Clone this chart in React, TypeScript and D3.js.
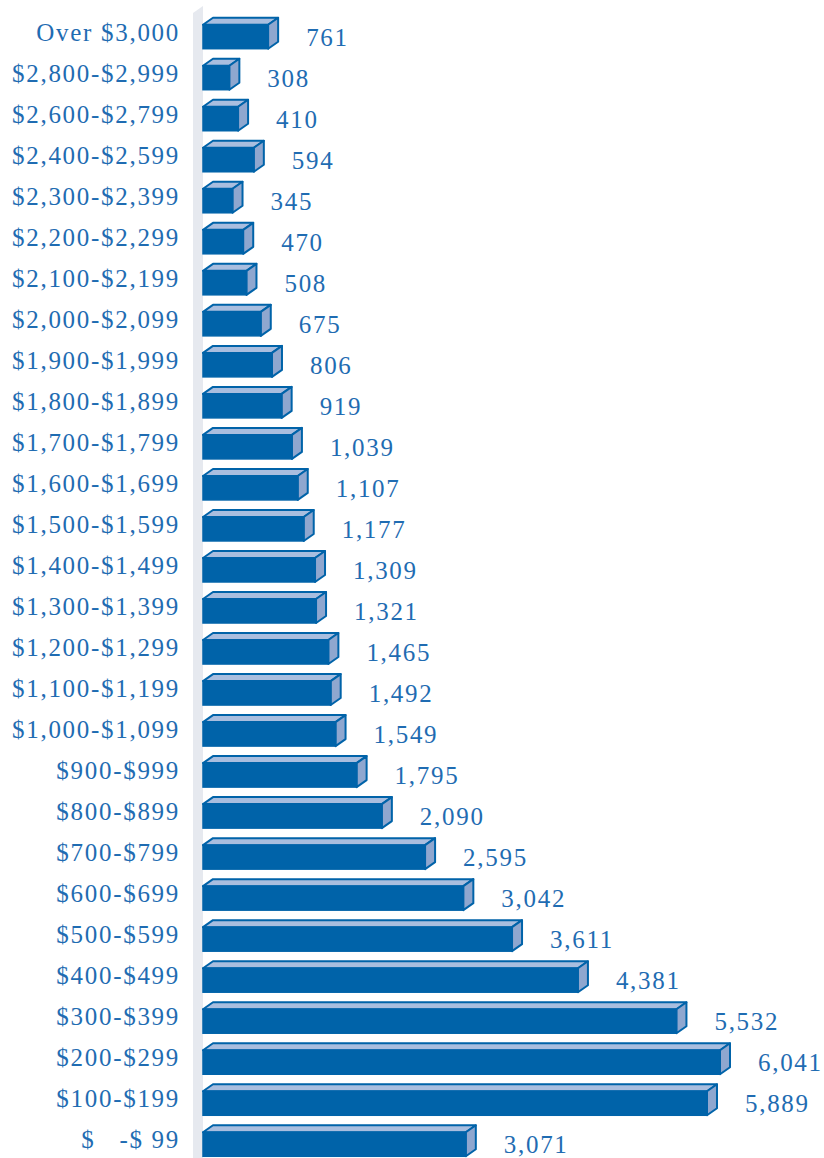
import React from "react";
import * as d3 from "d3";

const categories = [
  "Over $3,000", "$2,800-$2,999", "$2,600-$2,799", "$2,400-$2,599", "$2,300-$2,399",
  "$2,200-$2,299", "$2,100-$2,199", "$2,000-$2,099", "$1,900-$1,999", "$1,800-$1,899",
  "$1,700-$1,799", "$1,600-$1,699", "$1,500-$1,599", "$1,400-$1,499", "$1,300-$1,399",
  "$1,200-$1,299", "$1,100-$1,199", "$1,000-$1,099", "$900-$999", "$800-$899",
  "$700-$799", "$600-$699", "$500-$599", "$400-$499", "$300-$399", "$200-$299",
  "$100-$199", "$   -$ 99",
];
const values = [
  761, 308, 410, 594, 345, 470, 508, 675, 806, 919, 1039, 1107, 1177, 1309, 1321,
  1465, 1492, 1549, 1795, 2090, 2595, 3042, 3611, 4381, 5532, 6041, 5889, 3071,
];

const W = 824;
const H = 1158;
const BLUE = "#0063a9";
const TOP = "#a9bedf";
const SIDE = "#8fa7cf";
const TEXT = "#1f6cb2";
const WALL = "#e6e9ef";
const FONT = "'Liberation Serif', 'Times New Roman', serif";

export default function App() {
  const x = d3.scaleLinear().domain([0, 6041]).range([203, 720]);
  const y = d3
    .scaleBand<string>()
    .domain(categories)
    .range([16.5, 16.5 + 41 * categories.length])
    .paddingInner(0.415)
    .paddingOuter(0.2);
  const bh = y.bandwidth();
  const dx = 10;
  const dy = 7;
  const fmt = d3.format(",");

  return (
    <svg width={W} height={H} style={{ position: "absolute", left: 0, top: 0 }}>
      <rect width={W} height={H} fill="#ffffff" />
      {/* left wall */}
      <polygon points={`193,13 203,6 203,${H} 193,${H}`} fill={WALL} />
      {categories.map((c, i) => {
        const v = values[i];
        const x0 = x(0);
        const x1 = x(v);
        const yt = y(c)!;
        const yb = yt + bh;
        const cy = yt + bh / 2;
        return (
          <g key={c}>
            <polygon
              points={`${x0},${yt} ${x0 + dx},${yt - dy} ${x1 + dx},${yt - dy} ${x1},${yt}`}
              fill={TOP}
              stroke={BLUE}
              strokeWidth={2}
              strokeLinejoin="round"
            />
            <polygon
              points={`${x1},${yt} ${x1 + dx},${yt - dy} ${x1 + dx},${yb - dy} ${x1},${yb}`}
              fill={SIDE}
              stroke={BLUE}
              strokeWidth={2}
              strokeLinejoin="round"
            />
            <rect x={x0} y={yt} width={x1 - x0} height={bh} fill={BLUE} stroke={BLUE} strokeWidth={1.5} />
            <text
              x={180}
              y={cy + 4}
              textAnchor="end"
              fontFamily={FONT}
              fontSize={25}
              letterSpacing={1.7}
              fill={TEXT}
              style={{ whiteSpace: "pre" }}
            >
              {c}
            </text>
            <text
              x={x1 + dx + 28}
              y={cy + 9}
              textAnchor="start"
              fontFamily={FONT}
              fontSize={25}
              letterSpacing={1.7}
              fill={TEXT}
            >
              {fmt(v)}
            </text>
          </g>
        );
      })}
    </svg>
  );
}
